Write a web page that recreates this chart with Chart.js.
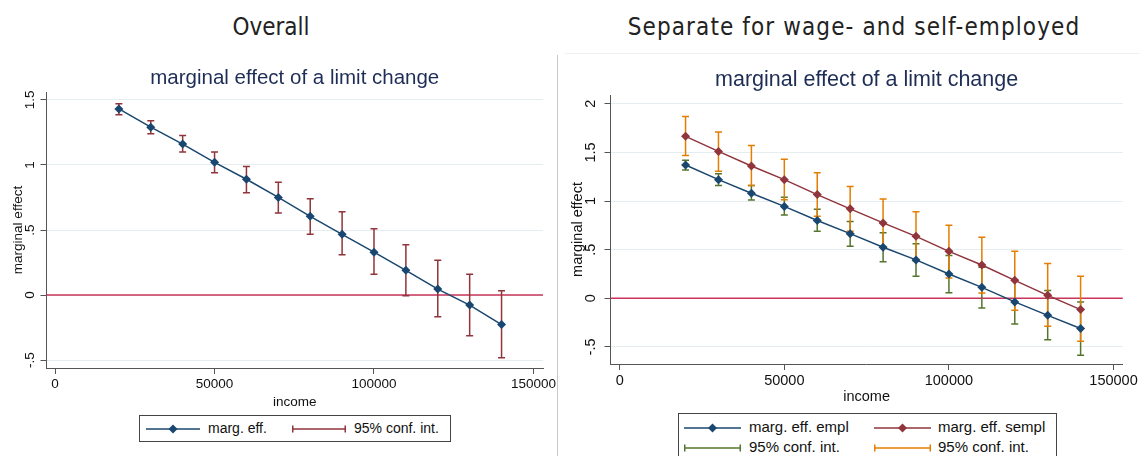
<!DOCTYPE html>
<html>
<head>
<meta charset="utf-8">
<script src="https://cdn.jsdelivr.net/npm/chart.js@4/dist/chart.umd.min.js"></script>
<style>
html, body { margin: 0; padding: 0; background: #fff; overflow: hidden; }
body { width: 1140px; height: 456px; position: relative; font-family: "Liberation Sans", Arial, sans-serif; color: #222; }
.head { position: absolute; top: 13px; font-family: "DejaVu Sans Condensed", "Liberation Sans Narrow", sans-serif; font-size: 24px; color: #222; white-space: nowrap; transform: translateX(-50%); }
.divider { position: absolute; left: 557px; top: 55px; width: 1px; height: 401px; background: #c8c8c8; }
.topline { position: absolute; left: 565px; top: 53px; width: 575px; height: 1px; background: #f0f0f0; }
canvas { position: absolute; }
.legend { position: absolute; border: 1px solid #444; box-sizing: border-box; background: #fff; color: #111; }
.legend span { position: absolute; white-space: nowrap; line-height: 16px; }
.legend svg { position: absolute; overflow: visible; }
</style>
</head>
<body>
<div class="head" style="left:271px">Overall</div>
<div class="head" style="left:854px;letter-spacing:1.1px">Separate for wage- and self-employed</div>
<div class="topline"></div>
<div class="divider"></div>

<canvas id="left" style="left:0px;top:55px"></canvas>
<canvas id="right" style="left:560px;top:55px"></canvas>

<div class="legend" style="left:139px;top:415px;width:312px;height:27px;font-size:14px">
  <svg style="left:6px;top:8px" width="54" height="10"><line x1="0" y1="5" x2="54" y2="5" stroke="#1a476f" stroke-width="1.5"/><polygon points="27,0.5 31.5,5 27,9.5 22.5,5" fill="#1a476f"/></svg>
  <span style="left:68px;top:4px">marg. eff.</span>
  <svg style="left:152px;top:8px" width="54" height="10"><line x1="0.75" y1="5" x2="53.25" y2="5" stroke="#90353b" stroke-width="1.5"/><line x1="0.75" y1="1.5" x2="0.75" y2="8.5" stroke="#90353b" stroke-width="1.5"/><line x1="53.25" y1="1.5" x2="53.25" y2="8.5" stroke="#90353b" stroke-width="1.5"/></svg>
  <span style="left:214px;top:4px">95% conf. int.</span>
</div>

<div class="legend" style="left:678px;top:413px;width:379px;height:46px;font-size:15px">
  <svg style="left:5px;top:9px" width="57" height="10"><line x1="0" y1="5" x2="57" y2="5" stroke="#1a476f" stroke-width="1.5"/><polygon points="28.5,0.5 33,5 28.5,9.5 24,5" fill="#1a476f"/></svg>
  <span style="left:70px;top:5px">marg. eff. empl</span>
  <svg style="left:195px;top:9px" width="57" height="10"><line x1="0" y1="5" x2="57" y2="5" stroke="#90353b" stroke-width="1.5"/><polygon points="28.5,0.5 33,5 28.5,9.5 24,5" fill="#90353b"/></svg>
  <span style="left:259px;top:5px">marg. eff. sempl</span>
  <svg style="left:5px;top:29px" width="57" height="10"><line x1="0.75" y1="5" x2="56.25" y2="5" stroke="#55752f" stroke-width="1.5"/><line x1="0.75" y1="1.5" x2="0.75" y2="8.5" stroke="#55752f" stroke-width="1.5"/><line x1="56.25" y1="1.5" x2="56.25" y2="8.5" stroke="#55752f" stroke-width="1.5"/></svg>
  <span style="left:70px;top:25px">95% conf. int.</span>
  <svg style="left:195px;top:29px" width="57" height="10"><line x1="0.75" y1="5" x2="56.25" y2="5" stroke="#e37e00" stroke-width="1.5"/><line x1="0.75" y1="1.5" x2="0.75" y2="8.5" stroke="#e37e00" stroke-width="1.5"/><line x1="56.25" y1="1.5" x2="56.25" y2="8.5" stroke="#e37e00" stroke-width="1.5"/></svg>
  <span style="left:259px;top:25px">95% conf. int.</span>
</div>

<script>
// income levels where the effect is evaluated
var incomes = [20000, 30000, 40000, 50000, 60000, 70000, 80000, 90000, 100000, 110000, 120000, 130000, 140000];

// overall
var effAll  = [1.43, 1.29, 1.16, 1.02, 0.89, 0.75, 0.605, 0.467, 0.33, 0.19, 0.046, -0.077, -0.226];
var lowAll  = [1.385, 1.24, 1.10, 0.94, 0.787, 0.63, 0.467, 0.31, 0.16, -0.005, -0.167, -0.313, -0.482];
var highAll = [1.47, 1.34, 1.225, 1.10, 0.987, 0.867, 0.74, 0.64, 0.51, 0.387, 0.267, 0.16, 0.033];

// wage-employed
var effEmpl  = [1.37, 1.22, 1.08, 0.945, 0.80, 0.665, 0.525, 0.395, 0.25, 0.113, -0.037, -0.175, -0.31];
var lowEmpl  = [1.32, 1.16, 1.01, 0.857, 0.69, 0.535, 0.375, 0.226, 0.058, -0.099, -0.263, -0.425, -0.585];
var highEmpl = [1.42, 1.28, 1.16, 1.04, 0.915, 0.79, 0.675, 0.56, 0.44, 0.32, 0.19, 0.08, -0.037];

// self-employed
var effSempl  = [1.665, 1.51, 1.36, 1.22, 1.066, 0.92, 0.775, 0.637, 0.483, 0.343, 0.185, 0.031, -0.116];
var lowSempl  = [1.467, 1.305, 1.16, 1.014, 0.843, 0.69, 0.53, 0.38, 0.21, 0.055, -0.123, -0.288, -0.44];
var highSempl = [1.87, 1.71, 1.57, 1.43, 1.29, 1.15, 1.02, 0.89, 0.75, 0.627, 0.483, 0.357, 0.226];

// axis ticks
var xTicks = [0, 50000, 100000, 150000];
var xTickLabels = ['0', '50000', '100000', '150000'];
var yTicksLeft = [-0.5, 0, 0.5, 1, 1.5];
var yTickLabelsLeft = ['-.5', '0', '.5', '1', '1.5'];
var yTicksRight = [-0.5, 0, 0.5, 1, 1.5, 2];
var yTickLabelsRight = ['-.5', '0', '.5', '1', '1.5', '2'];

var NAVY = '#1a476f', MAROON = '#90353b', GREEN = '#55752f', ORANGE = '#e37e00';
var AXIS = '#555', GRID = '#e6edf1', ZERO = '#c8345a';

function pts(ys) {
    return incomes.map(function(x, i) { return { x: x, y: ys[i] }; });
}

// red reference line at y = 0
var zeroLine = {
    id: 'zeroLine',
    beforeDatasetsDraw: function(chart) {
        var a = chart.chartArea, y = chart.scales.y.getPixelForValue(0), ctx = chart.ctx;
        ctx.save();
        ctx.strokeStyle = ZERO; ctx.lineWidth = 1.5;
        ctx.beginPath(); ctx.moveTo(a.left, y); ctx.lineTo(a.right, y); ctx.stroke();
        ctx.restore();
    }
};

// capped confidence intervals
var ciBars = {
    id: 'ciBars',
    beforeDatasetsDraw: function(chart, args, opts) {
        var ctx = chart.ctx, xs = chart.scales.x, ys = chart.scales.y;
        (opts.sets || []).forEach(function(s) {
            ctx.save();
            ctx.strokeStyle = s.color; ctx.lineWidth = 1.5;
            incomes.forEach(function(inc, i) {
                var px = xs.getPixelForValue(inc);
                var lo = ys.getPixelForValue(s.low[i]), hi = ys.getPixelForValue(s.high[i]);
                ctx.beginPath();
                ctx.moveTo(px, lo); ctx.lineTo(px, hi);
                ctx.moveTo(px - s.cap, lo); ctx.lineTo(px + s.cap, lo);
                ctx.moveTo(px - s.cap, hi); ctx.lineTo(px + s.cap, hi);
                ctx.stroke();
            });
            ctx.restore();
        });
    }
};

// title centred over the plot region
var plotTitle = {
    id: 'plotTitle',
    afterDraw: function(chart, args, opts) {
        var a = chart.chartArea, ctx = chart.ctx;
        ctx.save();
        ctx.font = opts.size + 'px "Liberation Sans", Arial, sans-serif';
        ctx.fillStyle = '#1e2d55';
        ctx.textAlign = 'center'; ctx.textBaseline = 'middle';
        ctx.fillText(opts.text, (a.left + a.right) / 2, a.top - opts.offset);
        ctx.restore();
    }
};

function lineSet(label, ys, color) {
    return {
        label: label, data: pts(ys), showLine: true,
        borderColor: color, backgroundColor: color, borderWidth: 1.5,
        pointStyle: 'rectRot', pointRadius: 4.5, pointBorderWidth: 0
    };
}

function makeChart(id, o) {
    var cv = document.getElementById(id);
    cv.width = o.w; cv.height = o.h;
    cv.style.width = o.w + 'px'; cv.style.height = o.h + 'px';
    return new Chart(cv, {
        type: 'scatter',
        data: { datasets: o.datasets },
        plugins: [zeroLine, ciBars, plotTitle],
        options: {
            responsive: false, animation: false, devicePixelRatio: 1,
            layout: { padding: { top: o.padTop, right: o.padRight, left: 0, bottom: 0 } },
            plugins: {
                legend: { display: false }, tooltip: { enabled: false },
                ciBars: { sets: o.ci },
                plotTitle: { text: 'marginal effect of a limit change', size: o.titleSize, offset: o.titleOffset }
            },
            scales: {
                x: {
                    type: 'linear', min: o.xMin, max: o.xMax,
                    afterBuildTicks: function(s) { s.ticks = xTicks.map(function(v) { return { value: v }; }); },
                    afterFit: function(s) { s.height = 45; },
                    ticks: { maxRotation: 0, padding: 2, color: '#111', font: { size: o.font },
                             callback: function(v, i) { return xTickLabels[i]; } },
                    grid: { drawOnChartArea: false, tickColor: AXIS, tickLength: 6 },
                    border: { color: AXIS, width: 1 },
                    title: { display: true, text: 'income', color: '#111', font: { size: o.font }, padding: { top: 0, bottom: 3 } }
                },
                y: {
                    type: 'linear', min: o.yMin, max: o.yMax,
                    afterBuildTicks: function(s) { s.ticks = o.yTicks.map(function(v) { return { value: v }; }); },
                    afterFit: function(s) { s.width = o.yWidth; },
                    ticks: { minRotation: 90, maxRotation: 90, crossAlign: 'center', padding: o.yPad,
                             color: '#111', font: { size: o.font },
                             callback: function(v, i) { return o.yLabels[i]; } },
                    grid: { color: GRID, tickColor: AXIS, tickLength: 6 },
                    border: { color: AXIS, width: 1 },
                    title: { display: true, text: 'marginal effect', color: '#111', font: { size: o.font }, padding: { top: o.yTitlePad, bottom: 0 } }
                }
            }
        }
    });
}

makeChart('left', {
    w: 560, h: 358, padTop: 37, padRight: 17, yWidth: 46.5, yPad: 1, yTitlePad: 10, font: 13.5,
    titleSize: 20.5, titleOffset: 14,
    xMin: -2700, xMax: 153000, yMin: -0.56, yMax: 1.56,
    yTicks: yTicksLeft, yLabels: yTickLabelsLeft,
    ci: [{ low: lowAll, high: highAll, color: MAROON, cap: 3.5 }],
    datasets: [lineSet('marg. eff.', effAll, NAVY)]
});

makeChart('right', {
    w: 580, h: 354, padTop: 40, padRight: 15.5, yWidth: 50.5, yPad: 3, yTitlePad: 9, font: 14.5,
    titleSize: 21.5, titleOffset: 15,
    xMin: -2800, xMax: 152800, yMin: -0.675, yMax: 2.09,
    yTicks: yTicksRight, yLabels: yTickLabelsRight,
    ci: [{ low: lowEmpl, high: highEmpl, color: GREEN, cap: 3.5 },
         { low: lowSempl, high: highSempl, color: ORANGE, cap: 3.5 }],
    datasets: [lineSet('marg. eff. empl', effEmpl, NAVY), lineSet('marg. eff. sempl', effSempl, MAROON)]
});
</script>
</body>
</html>
